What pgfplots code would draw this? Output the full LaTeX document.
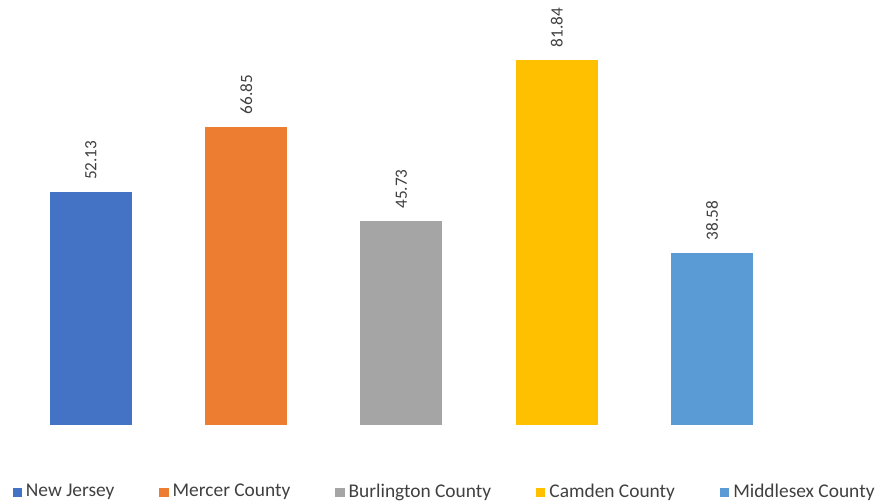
\documentclass[border=0pt]{standalone}
\usepackage{pgfplots}
\pgfplotsset{compat=1.18}
\usepackage{fontspec}
\setmainfont{Carlito}
\definecolor{c1}{HTML}{4472C4}
\definecolor{c2}{HTML}{ED7D31}
\definecolor{c3}{HTML}{A5A5A5}
\definecolor{c4}{HTML}{FFC000}
\definecolor{c5}{HTML}{5B9BD5}
\definecolor{txt}{HTML}{404040}
\pgfplotsset{sq/.style={legend image code/.code={\fill[##1] (0pt,-2.3pt) rectangle (4.6pt,2.3pt);}}}
\begin{document}
\begin{tikzpicture}
\path[use as bounding box] (0,0) rectangle (439.5pt,251pt);
\begin{axis}[
  at={(0pt,38.5pt)}, anchor=south west,
  scale only axis, width=439.5pt, height=212.5pt,
  hide axis, clip=false,
  ybar, bar width=41pt, bar shift=0pt,
  xmin=-0.586, xmax=5.076, ymin=0, ymax=95.23,
  nodes near coords,
  nodes near coords style={font=\fontsize{8.6}{9}\selectfont, text=txt, rotate=90, anchor=west, inner xsep=6pt, inner ysep=0pt, /pgf/number format/.cd, fixed, fixed zerofill, precision=2, assume math mode=true},
  legend columns=5,
  legend style={at={(0.507,-0.158)}, anchor=center, draw=none, fill=none, font=\fontsize{9.7}{10}\selectfont, text=txt,
    /tikz/every even column/.append style={column sep=20.5pt}},
  legend cell align=left,
]
\addplot[fill=c1, draw=none, sq] coordinates {(0,52.13)};
\addplot[fill=c2, draw=none, sq] coordinates {(1,66.85)};
\addplot[fill=c3, draw=none, sq] coordinates {(2,45.73)};
\addplot[fill=c4, draw=none, sq] coordinates {(3,81.84)};
\addplot[fill=c5, draw=none, sq] coordinates {(4,38.58)};
\legend{New Jersey, Mercer County, Burlington County, Camden County, Middlesex County}
\end{axis}
\end{tikzpicture}
\end{document}
